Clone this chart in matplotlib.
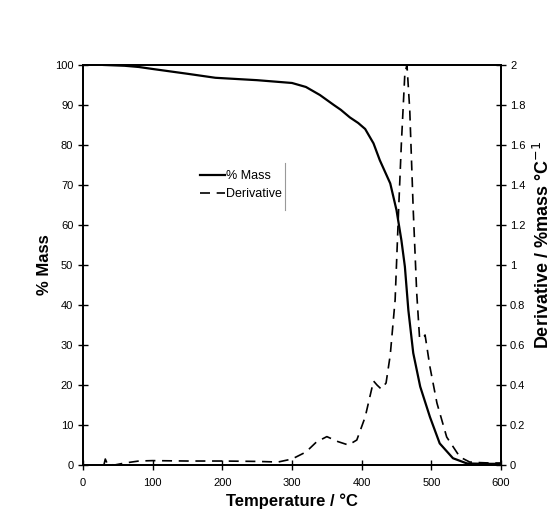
import matplotlib
matplotlib.use("Agg")
import matplotlib.pyplot as plt
from matplotlib.ticker import FixedLocator

# valores (TGA)
temp_mass = [30, 60, 80, 100, 150, 190, 250, 300, 320, 340, 360, 370, 383, 395, 405, 417, 426,
             441, 450, 457, 462, 467, 474, 484, 498, 512, 531, 551, 575, 600]
mass = [100, 99.8, 99.5, 99.0, 97.8, 96.8, 96.2, 95.5, 94.5, 92.5, 90.0, 88.8, 86.9, 85.5, 84.0, 80.4, 76.2,
        70.4, 63.7, 56.2, 49.6, 38.7, 28.0, 19.6, 12.0, 5.4, 1.7, 0.4, 0.3, 0.3]

temp_deriv = [30, 32, 35, 45, 60, 80, 100, 150, 200, 250, 280, 300, 320, 335, 350, 366, 381, 393,
              405, 417, 422, 428, 435, 441, 448, 453, 457, 462, 465, 469, 474, 479, 483, 487,
              491, 498, 508, 522, 541, 555, 570, 585, 600]
deriv = [0.0, 0.03, 0.005, 0.0, 0.01, 0.02, 0.022, 0.02, 0.02, 0.018, 0.015, 0.03, 0.065, 0.115,
         0.142, 0.117, 0.10, 0.125, 0.24, 0.42, 0.40, 0.38, 0.41, 0.55, 0.825, 1.275, 1.61, 1.96,
         2.0, 1.775, 1.275, 0.86, 0.64, 0.63, 0.65, 0.49, 0.31, 0.14, 0.04, 0.015, 0.012, 0.01, 0.01]

x_ticks = [0, 100, 200, 300, 400, 500, 600]
left_ticks = [0, 10, 20, 30, 40, 50, 60, 70, 80, 90, 100]
right_ticks = [0, 0.2, 0.4, 0.6, 0.8, 1, 1.2, 1.4, 1.6, 1.8, 2]
right_labels = ["0", "0.2", "0.4", "0.6", "0.8", "1", "1.2", "1.4", "1.6", "1.8", "2"]

plt.rcParams['font.family'] = ['Liberation Sans Narrow', 'Liberation Sans', 'DejaVu Sans']

fig = plt.figure(figsize=(5.57, 5.27), dpi=100)
ax = fig.add_axes([0.149, 0.1176, 0.7505, 0.7591])
ax2 = ax.twinx()

l1, = ax.plot(temp_mass, mass, color='black', lw=1.6, label='% Mass')
l2, = ax2.plot(temp_deriv, deriv, color='black', lw=1.2, ls=(0, (6, 4)), label='Derivative')

ax.set_xlim(0, 600)
ax.set_ylim(0, 100)
ax2.set_ylim(0, 2)

ax.xaxis.set_major_locator(FixedLocator(x_ticks))
ax.yaxis.set_major_locator(FixedLocator(left_ticks))
ax2.yaxis.set_major_locator(FixedLocator(right_ticks))
ax2.set_yticklabels(right_labels)

for a in (ax, ax2):
    a.tick_params(direction='inout', length=7, width=1.0, labelsize=8)
    for s in a.spines.values():
        s.set_linewidth(1.3)
ax.tick_params(axis='x', pad=6)
ax2.tick_params(axis='y', pad=3)

bold_fam = ['Liberation Sans', 'DejaVu Sans']
ax.set_xlabel('Temperature / °C', fontsize=12, fontweight='bold', family=bold_fam, labelpad=4)
ax.set_ylabel('% Mass', fontsize=12, fontweight='bold', family=bold_fam, labelpad=2)
ax2.set_ylabel('Derivative / %mass °C$^{-1}$', fontsize=13, fontweight='bold', family=bold_fam)
ax2.yaxis.set_label_coords(1.076, 0.55)

ax.legend(handles=[l1, l2], loc='upper left', bbox_to_anchor=(0.252, 0.765), frameon=False,
          fontsize=9, handlelength=2.0, handletextpad=0.15, labelspacing=0.5)
# borde derecho de la leyenda visible en el original
ax.plot([0.483, 0.483], [0.6375, 0.755], transform=ax.transAxes, color='#999999', lw=0.8)

fig.savefig('out.png', dpi=100)
